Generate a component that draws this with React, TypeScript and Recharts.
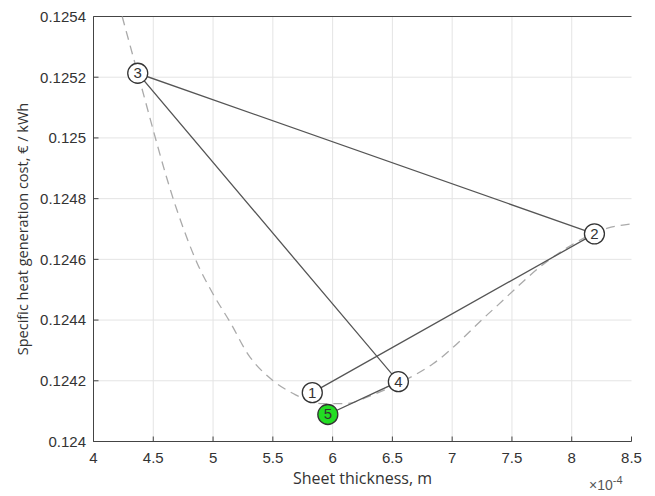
import React from 'react'
import { LineChart, Line, XAxis, YAxis, CartesianGrid, Label, ReferenceLine } from 'recharts'

// dashed cost curve, x in units of 1e-4 m
const curveX = [4.24, 4.37, 4.7, 4.87, 5.0, 5.15, 5.29, 5.5, 5.67, 5.9, 6.11, 6.32, 6.55, 6.84, 7.32, 7.8, 7.96, 8.3, 8.5]
const curveY = [
  0.1254, 0.125213, 0.12476, 0.124585, 0.124486, 0.124388, 0.124289, 0.124201, 0.124158, 0.124125,
  0.124125, 0.124151, 0.124191, 0.124256, 0.124427, 0.124595, 0.124638, 0.124703, 0.124717
]

// optimisation steps
const stepLabels = ['1', '2', '3', '4', '5']
const stepX = [5.83, 8.19, 4.37, 6.55, 5.96]
const stepY = [0.124161, 0.124684, 0.125213, 0.124197, 0.124089]

const xTicks = [4, 4.5, 5, 5.5, 6, 6.5, 7, 7.5, 8, 8.5]
const yTicks = [0.124, 0.1242, 0.1244, 0.1246, 0.1248, 0.125, 0.1252, 0.1254]

const curveData = curveX.map((x, i) => ({ x, y: curveY[i] }))
const stepData = stepX.map((x, i) => ({ x, y: stepY[i], label: stepLabels[i] }))

const tickFont = { fontFamily: 'Liberation Sans, Arial, sans-serif', fontSize: 15, fill: '#333' }
const labelFamily = 'Open Sans, sans-serif'
const frame = '#444'

const StepDot = (props: any) => {
  const { cx, cy, payload } = props
  const last = payload.label === '5'
  return (
    <g key={payload.label}>
      <circle cx={cx} cy={cy} r={10} fill={last ? '#22dd22' : '#fff'} stroke="#333" strokeWidth={1.3} />
      <text
        x={cx}
        y={cy + 5}
        textAnchor="middle"
        fontFamily="Liberation Sans, Arial, sans-serif"
        fontSize={15}
        fill="#333"
      >
        {payload.label}
      </text>
    </g>
  )
}

const YTitle = (props: any) => {
  const { viewBox } = props
  const cx = 22
  const cy = viewBox.y + viewBox.height / 2
  return (
    <text
      x={cx}
      y={cy}
      transform={`rotate(-90 ${cx} ${cy})`}
      textAnchor="middle"
      dominantBaseline="central"
      fontFamily={labelFamily}
      fontSize={14.5}
      fill="#333"
    >
      Specific heat generation cost, € / kWh
    </text>
  )
}

export default function App() {
  return (
    <div style={{ position: 'absolute', left: 0, top: 0, width: 655, height: 496, background: '#fff' }}>
      <LineChart width={655} height={496} margin={{ top: 15.5, right: 22.5, bottom: 0, left: 0.5 }}>
        <CartesianGrid
          stroke="#e4e4e4"
          horizontalValues={yTicks.slice(1, -1)}
          verticalValues={xTicks.slice(1, -1)}
        />
        <XAxis
          type="number"
          dataKey="x"
          domain={[4, 8.5]}
          ticks={xTicks}
          height={54.5}
          axisLine={{ stroke: frame }}
          tickLine={{ stroke: frame }}
          tickSize={-5}
          tickMargin={16}
          tick={tickFont}
        >
          <Label
            value="Sheet thickness, m"
            position="insideBottom"
            offset={12}
            style={{ fontFamily: labelFamily, fontSize: 16, fill: '#333' }}
          />
        </XAxis>
        <XAxis
          xAxisId="top"
          orientation="top"
          type="number"
          dataKey="x"
          domain={[4, 8.5]}
          ticks={xTicks}
          height={1}
          axisLine={false}
          tickLine={{ stroke: frame }}
          tickSize={-4}
          tick={false}
        />
        <YAxis
          type="number"
          dataKey="y"
          domain={[0.124, 0.1254]}
          ticks={yTicks}
          width={93}
          axisLine={{ stroke: frame }}
          tickLine={{ stroke: frame }}
          tickSize={-5}
          tickMargin={12.5}
          tick={tickFont}
        >
          <Label content={<YTitle />} position="insideLeft" />
        </YAxis>
        <YAxis
          yAxisId="right"
          orientation="right"
          type="number"
          domain={[0.124, 0.1254]}
          ticks={yTicks}
          width={1}
          axisLine={false}
          tickLine={{ stroke: frame }}
          tickSize={-4}
          tick={false}
        />
        <ReferenceLine y={0.1254} stroke={frame} />
        <ReferenceLine yAxisId="right" x={8.5} stroke={frame} />
        <Line
          data={curveData}
          dataKey="y"
          type="monotone"
          stroke="#aaa"
          strokeWidth={1.3}
          strokeDasharray="9 6"
          dot={false}
          activeDot={false}
          isAnimationActive={false}
        />
        <Line
          data={stepData}
          dataKey="y"
          type="linear"
          stroke="#555"
          strokeWidth={1.3}
          dot={StepDot}
          activeDot={false}
          isAnimationActive={false}
        />
      </LineChart>
      <div
        style={{
          position: 'absolute',
          left: 589,
          top: 477,
          fontFamily: 'Liberation Sans, Arial, sans-serif',
          fontSize: 14,
          color: '#555'
        }}
      >
        ×10<sup style={{ fontSize: 11, verticalAlign: 'super', lineHeight: 0 }}>-4</sup>
      </div>
    </div>
  )
}
